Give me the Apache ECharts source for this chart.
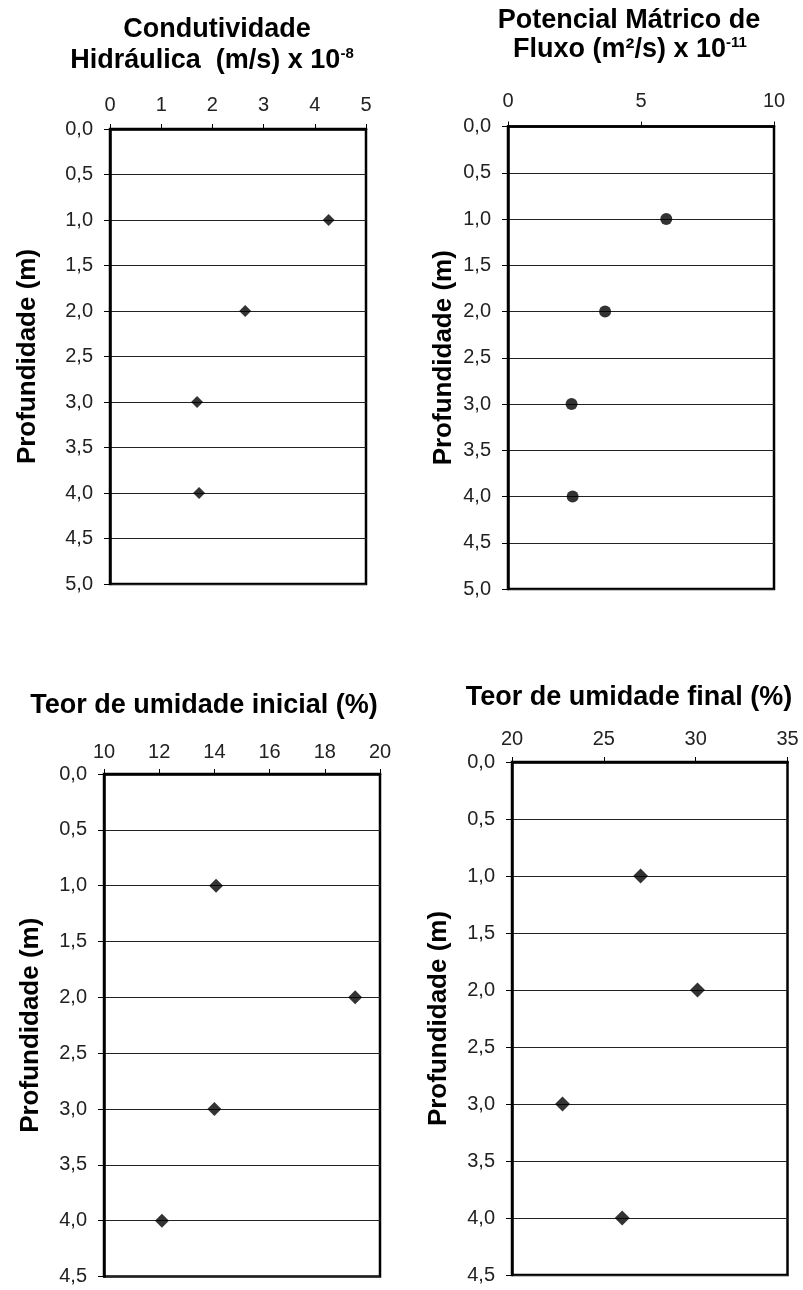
<!DOCTYPE html>
<html>
<head>
<meta charset="utf-8">
<script src="https://cdn.jsdelivr.net/npm/echarts@6/dist/echarts.min.js"></script>
<style>
  html, body { margin: 0; padding: 0; background: #fff; }
  #main { width: 803px; height: 1290px; }
</style>
</head>
<body>
<div id="main"></div>
<script>
// profundidade (m) de cada ponto
const profundidade = [1.0, 2.0, 3.0, 4.0];

// valores
const condutividade = [4.27, 2.64, 1.70, 1.74];      // (m/s) x 10^-8
const potencial = [5.95, 3.65, 2.39, 2.43];          // (m2/s) x 10^-11
const umidadeInicial = [14.06, 19.1, 14.0, 12.1];    // %
const umidadeFinal = [27.0, 30.1, 22.75, 26.0];      // %

const FONT = '"Liberation Sans", Arial, sans-serif';

function pares(xs) {
  return xs.map((v, i) => [v, profundidade[i]]);
}

// layout de cada painel (pixels)
const paineis = [
  { left: 110, top: 129, width: 256, height: 455, xmin: 0, xmax: 5, xint: 1, ymax: 5, gap: 69, lblTop: 14 },
  { left: 508, top: 126.5, width: 266, height: 462.5, xmin: 0, xmax: 10, xint: 5, ymax: 5, gap: 51, lblTop: 15 },
  { left: 104, top: 774, width: 276, height: 502.5, xmin: 10, xmax: 20, xint: 2, ymax: 4.5, gap: 60, lblTop: 12 },
  { left: 512, top: 762, width: 275.5, height: 513, xmin: 20, xmax: 35, xint: 5, ymax: 4.5, gap: 60, lblTop: 13 }
];

const series = [
  { data: pares(condutividade), symbol: 'diamond', size: 12 },
  { data: pares(potencial), symbol: 'circle', size: 12 },
  { data: pares(umidadeInicial), symbol: 'diamond', size: 14 },
  { data: pares(umidadeFinal), symbol: 'diamond', size: 15 }
];

var myChart = echarts.init(document.getElementById('main'));

var option = {
  backgroundColor: '#fff',
  animation: false,
  grid: paineis.map(p => ({
    left: p.left, top: p.top, width: p.width, height: p.height,
    show: true, borderColor: '#000', borderWidth: 2.5, backgroundColor: '#fff'
  })),
  xAxis: paineis.map((p, i) => ({
    type: 'value', gridIndex: i, position: 'top',
    min: p.xmin, max: p.xmax, interval: p.xint,
    axisLine: { show: true, lineStyle: { color: '#000', width: 2.5 } },
    axisTick: { show: true, length: 5, lineStyle: { color: '#000' } },
    axisLabel: { margin: p.lblTop, fontSize: 20, color: '#222', fontFamily: FONT },
    splitLine: { show: false }
  })),
  yAxis: paineis.map((p, i) => ({
    type: 'value', gridIndex: i, inverse: true,
    min: 0, max: p.ymax, interval: 0.5,
    name: 'Profundidade (m)', nameLocation: 'middle', nameGap: p.gap,
    nameTextStyle: { fontSize: 26, fontWeight: 'bold', color: '#000', fontFamily: FONT },
    axisLine: { show: true, lineStyle: { color: '#000', width: 2.5 } },
    axisTick: { show: true, length: 6, lineStyle: { color: '#000' } },
    axisLabel: {
      margin: 17, fontSize: 20, color: '#222', fontFamily: FONT,
      formatter: v => v.toFixed(1).replace('.', ',')
    },
    splitLine: { show: true, lineStyle: { color: '#222', width: 1 } }
  })),
  series: series.map((s, i) => ({
    type: 'scatter', xAxisIndex: i, yAxisIndex: i,
    symbol: s.symbol, symbolSize: s.size,
    itemStyle: { color: '#000' },
    data: s.data
  })),
  graphic: [
    titulo(217, 30, 'Condutividade'),
    titulo(212, 61, 'Hidráulica  (m/s) x 10{sup|-8}'),
    titulo(629, 21, 'Potencial Mátrico de'),
    titulo(630, 50, 'Fluxo (m²/s) x 10{sup|-11}'),
    titulo(204, 706, 'Teor de umidade inicial (%)'),
    titulo(629, 698, 'Teor de umidade final (%)')
  ]
};

function titulo(x, y, texto) {
  return {
    type: 'text', x: x, y: y,
    style: {
      text: texto,
      font: 'bold 27px ' + FONT,
      fill: '#000',
      align: 'center', verticalAlign: 'middle',
      textAlign: 'center', textVerticalAlign: 'middle',
      rich: {
        sup: { font: 'bold 15px ' + FONT, fill: '#000', verticalAlign: 'top', lineHeight: 30 }
      }
    }
  };
}

myChart.setOption(option);
</script>
</body>
</html>
